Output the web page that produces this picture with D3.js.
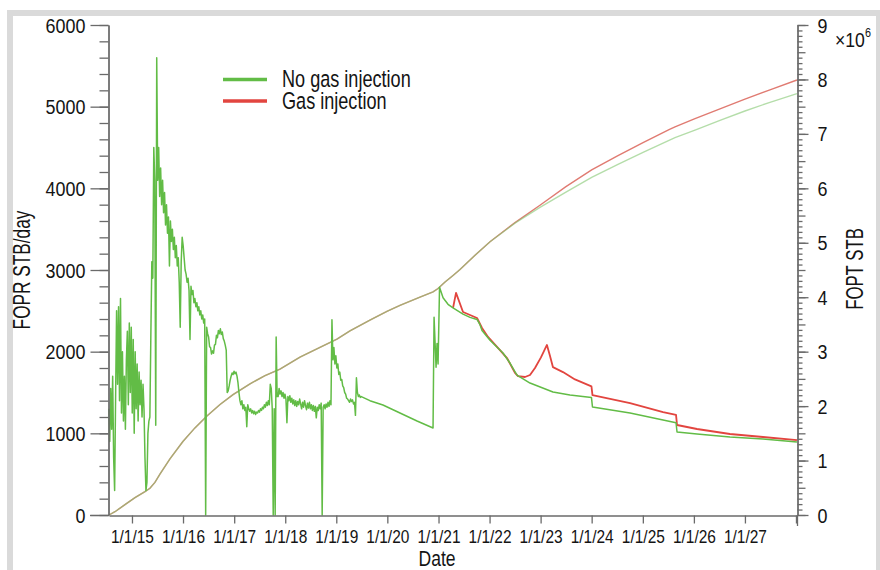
<!DOCTYPE html>
<html><head><meta charset="utf-8">
<script src="https://cdn.jsdelivr.net/npm/d3@7"></script>
<style>
html,body{margin:0;padding:0;background:#fff;}
svg{display:block;}
text{font-family:"Liberation Sans",Arial,sans-serif;fill:#141414;}
</style></head><body>
<svg id="chart" width="880" height="570"></svg>
<script>
// ---------------- DATA ----------------
const xTickYears = [2015,2016,2017,2018,2019,2020,2021,2022,2023,2024,2025,2026,2027,2028];
const leftTicks = [0,1000,2000,3000,4000,5000,6000];
const rightTicks = [0,1,2,3,4,5,6,7,8,9];           // x 10^6
const seriesNames = ["No gas injection","Gas injection"];

// FOPR, no gas injection: weekly reports from 2014-07-19 to mid 2019 (STB/day)
const weeklyStart = "2014-07-19";
const weeklyRate = [
1300,900,1550,1050,1700,700,300,1450,2500,1600,
2550,1400,2650,1250,2000,1150,1700,1050,1900,2250,
1350,2350,1500,2300,1250,2150,1000,2000,1300,1850,
1150,1750,1350,1650,1200,1600,1300,700,300,400,
1000,1150,1200,2200,3100,2900,4500,4100,1100,5600,
4100,4500,3900,4250,3800,4100,3700,3950,3550,3800,
3450,3650,3050,3600,3350,3500,3250,3400,3150,3300,
3050,3150,2850,2300,3100,3400,3300,3150,3000,2950,
2850,2900,2750,2150,2800,2700,2750,2600,2650,2550,
2600,2500,2550,2450,2500,2400,2450,2350,2400,0,
2300,2220,2180,2060,2050,1970,2010,1980,2080,2090,
2200,2170,2260,2220,2280,2210,2240,2160,2130,2080,
2020,1500,1520,1580,1650,1700,1740,1720,1760,1730,
1750,1700,1620,1500,1400,1350,1400,1300,1350,1280,
1320,1080,1350,1300,1270,1300,1250,1280,1240,1270,
1230,1260,1250,1280,1260,1300,1280,1320,1300,1350,
1320,1380,1340,1400,1350,1600,1550,1300,0,1300,
0,2180,1450,1450,1550,1480,1520,1450,1500,1430,
1480,1420,1130,1450,1400,1460,1380,1430,1360,1410,
1340,1400,1330,1390,1350,1420,1360,1300,1380,1320,
1400,1340,1290,1370,1310,1380,1300,1350,1280,1340,
1270,1330,1190,1320,1280,1350,1300,1370,0,1320,
1350,1300,1360,1320,1380,1330,1400,1350,2390,1900,
2050,1850,1950,1800,1850,1720,1750,1650,1660,1580,
1560,1500,1480,1430,1420,1400,1380,1420,1390,1410,
1360,1380,1220,1680,1500,1450,1470,1440,1450
];

// FOPR, no gas injection, after mid 2019 (decimal year, STB/day)
const rateNoGasT = [2019.659,2019.914,2020.247,2020.580,2020.893,2020.913,2020.952,2020.971,2020.991,2021.020,
  2021.089,2021.186,2021.284,2021.480,2021.617,2021.754,2021.813,2021.852,2022.009,2022.263,
  2022.400,2022.537,2022.792,2023.242,2023.575,2023.996,2024.016,2024.750,2025.396,2025.650,
  2025.670,2026.061,2026.707,2027.353,2028.019];
const rateNoGasV = [1400,1347,1249,1151,1065,2420,1810,2100,1850,2790,
  2660,2580,2535,2460,2420,2395,2330,2260,2140,1984,
  1861,1714,1616,1506,1470,1440,1322,1249,1163,1130,
  1016,992,955,930,894];

// FOPR, gas injection (decimal year, STB/day)
const rateGasT = [2021.284,2021.343,2021.480,2021.754,2021.852,2021.969,2022.204,2022.341,2022.498,2022.557,
  2022.694,2022.792,2022.890,2023.007,2023.124,2023.183,2023.242,2023.438,2023.673,2023.996,
  2024.016,2024.750,2025.396,2025.650,2025.670,2026.061,2026.707,2027.353,2028.019];
const rateGasV = [2535,2720,2486,2412,2290,2180,2020,1922,1740,1700,
  1690,1714,1800,1930,2082,1950,1810,1750,1660,1575,
  1468,1371,1261,1225,1102,1053,992,955,918];

// FOPT (cumulative, million STB)
const cumT = [2014.550,2014.667,2014.863,2015.059,2015.255,2015.352,2015.450,2015.548,2015.744,2015.998,
  2016.233,2016.468,2016.723,2016.977,2017.310,2017.604,2017.897,2018.289,2018.680,2019.013,
  2019.268,2019.659,2019.992,2020.247,2020.638,2020.893,2020.991,2021.128,2021.284,2021.421,
  2021.715,2022.009,2022.498,2022.987,2023.496,2024.000,2024.514,2025.004,2025.513,2025.630,
  2026.022,2026.511,2027.000,2027.490,2028.019];
const cumNoGas = [0,0.06,0.19,0.32,0.43,0.49,0.6,0.75,1.03,1.35,
  1.6,1.82,2.03,2.21,2.41,2.56,2.68,2.9,3.08,3.23,
  3.38,3.58,3.74,3.85,4.0,4.1,4.16,4.28,4.4,4.51,
  4.77,5.02,5.36,5.65,5.93,6.2,6.44,6.66,6.88,6.93,
  7.07,7.25,7.42,7.58,7.74];
const cumGas = [0,0.06,0.19,0.32,0.43,0.49,0.6,0.75,1.03,1.35,
  1.6,1.82,2.03,2.21,2.41,2.56,2.68,2.9,3.08,3.23,
  3.38,3.58,3.74,3.85,4.0,4.1,4.16,4.28,4.4,4.51,
  4.77,5.02,5.37,5.69,6.03,6.34,6.6,6.84,7.08,7.13,
  7.28,7.46,7.64,7.81,7.99];

// ---------------- HELPERS ----------------
function yearToDate(y){
  const yr = Math.floor(y);
  const s = Date.UTC(yr,0,1), e = Date.UTC(yr+1,0,1);
  return new Date(s + (y-yr)*(e-s));
}
const startDate = new Date(weeklyStart + "T00:00:00Z");
const earlyPts = weeklyRate.map((v,i)=>({d:d3.utcDay.offset(startDate,7*i), v}));
const latePts = rateNoGasT.map((t,i)=>({d:yearToDate(t), v:rateNoGasV[i]}));
const noGasRate = earlyPts.concat(latePts);
const gasRate = rateGasT.map((t,i)=>({d:yearToDate(t), v:rateGasV[i]}));
const cumNoGasPts = cumT.map((t,i)=>({d:yearToDate(t), v:cumNoGas[i]*1e6}));
const cumGasPts = cumT.map((t,i)=>({d:yearToDate(t), v:cumGas[i]*1e6}));

// condensed look: squeeze text horizontally along its own baseline
function condense(sel, sx){
  sel.each(function(){
    const t = d3.select(this);
    const xv = +(t.attr("x") || 0);
    t.attr("x", xv/sx).attr("transform", `scale(${sx},1)`);
  });
}
function label(parent, x, y, rot, size, sx, txt, anchor){
  return parent.append("text")
    .attr("transform", `translate(${x},${y}) rotate(${rot}) scale(${sx},1)`)
    .attr("text-anchor", anchor || "start").attr("font-size", size).text(txt);
}

// ---------------- LAYOUT ----------------
const svg = d3.select("#chart");
const X0 = 109, X1 = 797, Y0 = 515, Y1 = 25;
const x = d3.scaleUtc().domain([yearToDate(2014.55), yearToDate(2028.02)]).range([X0, X1]);
const yL = d3.scaleLinear().domain([0,6000]).range([Y0, Y1]);
const yR = d3.scaleLinear().domain([0,9e6]).range([Y0, Y1]);

const col = {green:"#62bc46", red:"#e2453f", cumGreen:"#86c874", cumRed:"#e07b72", axis:"#6a6a6a"};
const FONT = '"Liberation Sans",Arial,sans-serif';

// frame
svg.append("rect").attr("x",10).attr("y",13).attr("width",869).attr("height",600)
  .attr("fill","#fff").attr("stroke","#dadada").attr("stroke-width",6);

// ---------------- LINES ----------------
const line = (ys) => d3.line().x(d=>x(d.d)).y(d=>ys(d.v));

svg.append("path").datum(cumGasPts).attr("d", line(yR))
  .attr("fill","none").attr("stroke",col.cumRed).attr("stroke-width",1.4);
svg.append("path").datum(cumNoGasPts).attr("d", line(yR))
  .attr("fill","none").attr("stroke",col.cumGreen).attr("stroke-width",1.4).attr("stroke-opacity",0.62);

svg.append("path").datum(gasRate).attr("d", line(yL))
  .attr("fill","none").attr("stroke",col.red).attr("stroke-width",1.8).attr("stroke-linejoin","round");
svg.append("path").datum(noGasRate).attr("d", line(yL))
  .attr("fill","none").attr("stroke",col.green).attr("stroke-width",1.5).attr("stroke-linejoin","round");

// ---------------- AXES ----------------
function styleAxis(g){
  g.selectAll("path.domain").attr("stroke",col.axis).attr("stroke-width",1.3);
  g.selectAll(".tick line").attr("stroke",col.axis).attr("stroke-width",1.3);
}
// left minor
svg.append("g").attr("transform",`translate(${X0-0.5},0)`)
  .call(d3.axisLeft(yL).tickValues(d3.range(0,6001,200)).tickSize(9).tickFormat("").tickSizeOuter(0))
  .call(styleAxis);
// left major
const gl = svg.append("g").attr("transform",`translate(${X0-0.5},0)`)
  .call(d3.axisLeft(yL).tickValues(leftTicks).tickSize(18).tickPadding(5).tickSizeOuter(0)
    .tickFormat(d3.format("d")))
  .call(styleAxis);
gl.selectAll("text").attr("font-size",19.5).attr("dy","0.36em").attr("fill","#141414").style("font-family",FONT)
  .call(condense, 0.92);

// right minor
svg.append("g").attr("transform",`translate(${X1+0.5},0)`)
  .call(d3.axisRight(yR).tickValues(d3.range(0,91).map(k=>k*1e5)).tickSize(5).tickFormat("").tickSizeOuter(0))
  .call(styleAxis)
  .selectAll(".tick line").attr("x2",(d)=> (Math.round(d/1e5)%5===0)?8:5);
// right major
const gr = svg.append("g").attr("transform",`translate(${X1+0.5},0)`)
  .call(d3.axisRight(yR).tickValues(rightTicks.map(v=>v*1e6)).tickSize(11).tickPadding(9)
    .tickFormat(d=>String(Math.round(d/1e6))).tickSizeOuter(0))
  .call(styleAxis);
gr.selectAll("text").attr("font-size",19.5).attr("dy","0.36em").attr("fill","#141414").style("font-family",FONT)
  .call(condense, 0.92);
svg.append("line").attr("x1",X1+0.5).attr("x2",X1+0.5).attr("y1",Y0).attr("y2",Y0+11)
  .attr("stroke",col.axis).attr("stroke-width",1.3);

// bottom axis
const gb = svg.append("g").attr("transform",`translate(0,${Y0+0.5})`)
  .call(d3.axisBottom(x).tickValues(xTickYears.map(y=>new Date(Date.UTC(y,0,1))))
    .tickSize(8).tickPadding(7).tickSizeOuter(0)
    .tickFormat(d=> d.getUTCFullYear()===2028 ? "" : "1/1/" + String(d.getUTCFullYear()).slice(2)))
  .call(styleAxis);
gb.selectAll("text").attr("font-size",18).attr("fill","#141414").style("font-family",FONT)
  .call(condense, 0.86);
// extend x-axis line to the left major tick
svg.append("line").attr("x1",90).attr("x2",X0).attr("y1",Y0+0.5).attr("y2",Y0+0.5)
  .attr("stroke",col.axis).attr("stroke-width",1.3);

// ---------------- TITLES ----------------
label(svg, 437, 566, 0, 22.5, 0.78, "Date", "middle");
label(svg, 30, 270, -90, 23, 0.75, "FOPR STB/day", "middle");
label(svg, 863, 269, -90, 23, 0.73, "FOPT STB", "middle");
label(svg, 835, 47, 0, 21, 0.84, "\u00d710");
label(svg, 865, 37, 0, 12, 0.9, "6");

// ---------------- LEGEND ----------------
const legendColors = [col.green, col.red];
const lg = svg.append("g");
seriesNames.forEach((n,i)=>{
  const yy = 79.5 + i*21.5;
  lg.append("line").attr("x1",223).attr("x2",267).attr("y1",yy).attr("y2",yy)
    .attr("stroke",legendColors[i]).attr("stroke-width",3.5);
  label(lg, 282, yy + 7.5, 0, 23.5, 0.77, n);
});
</script>
</body></html>
